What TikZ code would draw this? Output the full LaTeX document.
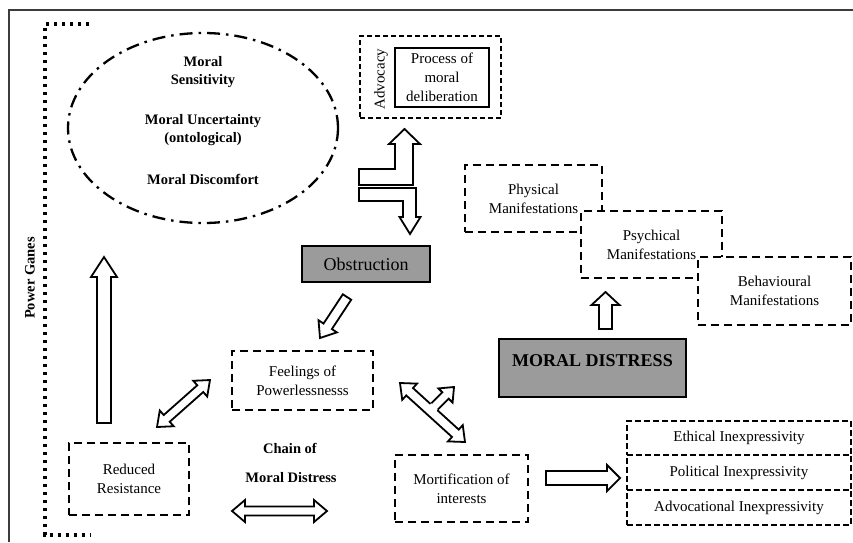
\documentclass[tikz,border=0pt]{standalone}
\usepackage{fontspec}
\setmainfont{Liberation Serif}
\usetikzlibrary{shapes.geometric}
\definecolor{boxgray}{RGB}{155,155,155}
\definecolor{framegray}{RGB}{60,60,60}
\tikzset{
  txt/.style={font=\fontsize{15}{19}\selectfont, align=center, inner sep=0pt},
  btxt/.style={font=\bfseries\fontsize{14.5}{18}\selectfont, align=center, inner sep=0pt},
  dbox/.style={draw=black, line width=2pt, dash pattern=on 8pt off 5pt, fill=white,
    inner sep=0pt, font=\fontsize{15}{19}\selectfont, align=center},
  ibox/.style={draw=black, line width=2pt, dash pattern=on 6pt off 3pt,
    inner sep=0pt, font=\fontsize{15}{19}\selectfont, align=center},
  gbox/.style={draw=black, line width=1.8pt, fill=boxgray, inner sep=0pt},
  blk/.style={draw=black, line width=1.8pt, fill=white, line join=miter},
}
\newcommand\blkone[7]{%
  \pgfmathsetmacro\bang{atan2(-(#4-#2),#3-#1)}%
  \pgfmathsetmacro\blen{veclen(#3-#1,#4-#2)}%
  \pgfmathsetmacro\bneck{\blen-#7}%
  \begin{scope}[shift={(#1,#2)},rotate=\bang]
    \draw[blk] (0,-#5) -- (\bneck,-#5) -- (\bneck,-#6) -- (\blen,0) -- (\bneck,#6) -- (\bneck,#5) -- (0,#5) -- cycle;
  \end{scope}}
\newcommand\blktwo[7]{%
  \pgfmathsetmacro\bang{atan2(-(#4-#2),#3-#1)}%
  \pgfmathsetmacro\blen{veclen(#3-#1,#4-#2)}%
  \pgfmathsetmacro\bneck{\blen-#7}%
  \begin{scope}[shift={(#1,#2)},rotate=\bang]
    \draw[blk] (0,0) -- (#7,-#6) -- (#7,-#5) -- (\bneck,-#5) -- (\bneck,-#6) -- (\blen,0) -- (\bneck,#6) -- (\bneck,#5) -- (#7,#5) -- (#7,#6) -- cycle;
  \end{scope}}
% branch arrow: filled from the start, stroked from offset #8
\newcommand\blkbranch[8]{%
  \pgfmathsetmacro\bang{atan2(-(#4-#2),#3-#1)}%
  \pgfmathsetmacro\blen{veclen(#3-#1,#4-#2)}%
  \pgfmathsetmacro\bneck{\blen-#7}%
  \begin{scope}[shift={(#1,#2)},rotate=\bang]
    \fill[white] (0,-#5) -- (\bneck,-#5) -- (\bneck,-#6) -- (\blen,0) -- (\bneck,#6) -- (\bneck,#5) -- (0,#5) -- cycle;
    \draw[blk,fill=none] (#8,-#5) -- (\bneck,-#5) -- (\bneck,-#6) -- (\blen,0) -- (\bneck,#6) -- (\bneck,#5) -- (#8,#5);
  \end{scope}}
\begin{document}
\begin{tikzpicture}[x=1pt,y=-1pt]
\useasboundingbox (0,0) rectangle (853,542);
\fill[white] (0,0) rectangle (853,542);
% frame
\coordinate (frTL) at (9,10);
\coordinate (frTR) at (853,10);
\coordinate (frBL) at (9,542);
\draw[framegray, line width=1.8pt] (frTR) -- (frTL) -- (frBL);
% power games bracket
\coordinate (pgA) at (89,24);
\coordinate (pgB) at (45,24);
\coordinate (pgC) at (45,535);
\coordinate (pgD) at (91,535);
\draw[black, line width=3.3pt, dash pattern=on 3.3pt off 4.7pt] (pgA) -- (pgB) -- (pgC) -- (pgD);
\node[btxt, rotate=90] (power) at (30,278) {Power Ganes};
% ellipse
\node[ellipse, draw=black, line width=2.3pt, dash pattern=on 13pt off 6pt on 2.5pt off 6pt,
      minimum width=270pt, minimum height=190pt, inner sep=0pt] (ell) at (203,128) {};
\node[btxt] (sens) at (203,72) {Moral\\Sensitivity};
\node[btxt] (unc) at (203,130) {Moral Uncertainty\\(ontological)};
\node[btxt] (disc) at (203,179) {Moral Discomfort};
% advocacy
\node[draw=black, line width=1.6pt, dash pattern=on 5pt off 3pt, minimum width=141pt, minimum height=82pt] (adv) at (430.5,77) {};
\node[draw=black, line width=2.5pt, minimum width=94pt, minimum height=59pt, txt] (proc) at (442,77.5) {Process of\\moral\\deliberation};
\node[txt, rotate=90] (advt) at (381,79) {Advocacy};
% L-shaped arrows
\draw[blk] (359,169) -- (395,169) -- (395,144) -- (389,144) -- (404.5,129) -- (420,144) -- (413,144) -- (413,185) -- (359,185) -- cycle;
\draw[blk] (359,188) -- (416,188) -- (416,217) -- (420.5,217) -- (410,234) -- (399.5,217) -- (403,217) -- (403,201) -- (359,201) -- cycle;
% obstruction
\node[gbox, minimum width=128pt, minimum height=36pt, font=\fontsize{18}{20}\selectfont] (obs) at (366,264) {Obstruction};
% manifestations
\node[dbox, minimum width=137pt, minimum height=67pt] (phys) at (533.5,198.5) {Physical\\Manifestations};
\node[dbox, minimum width=141pt, minimum height=67pt] (psych) at (651.5,244.5) {Psychical\\Manifestations};
\node[dbox, minimum width=153pt, minimum height=68pt] (behav) at (774.5,291) {Behavioural\\Manifestations};
% moral distress
\node[gbox, minimum width=187pt, minimum height=58pt] (md) at (592.5,368) {};
\node[inner sep=0pt, font=\bfseries\fontsize{18}{20}\selectfont] (mdt) at (592.5,361) {MORAL DISTRESS};
% chain boxes
\node[dbox, minimum width=141pt, minimum height=59pt] (feel) at (302.5,380.5) {Feelings of\\Powerlessnesss};
\node[dbox, minimum width=120pt, minimum height=72pt] (red) at (129,479) {Reduced\\Resistance};
\node[dbox, minimum width=133pt, minimum height=67pt] (mort) at (461.5,488.5) {Mortification of\\interests};
\node[btxt] (chain1) at (290,448) {Chain of};
\node[btxt] (chain2) at (291,478) {Moral Distress};
% inexpressivity
\node[ibox, minimum width=224pt, minimum height=34pt] (eth) at (739,438) {Ethical Inexpressivity};
\node[ibox, minimum width=224pt, minimum height=35pt] (pol) at (739,472.5) {Political Inexpressivity};
\node[ibox, minimum width=224pt, minimum height=35pt] (advi) at (739,507.5) {Advocational Inexpressivity};
% block arrows
\blkone{104}{423}{104}{257}{7}{13}{20}
\blkone{347}{297}{320}{338}{5}{11}{14}
\blktwo{157}{427}{210}{380}{4.5}{10.5}{13}
\blktwo{232}{511}{327}{511}{4.5}{11}{13}
\blkone{605.5}{329}{605.5}{292}{6.5}{14}{13}
\blkone{546}{478}{620}{478}{7}{13}{13}
\blktwo{400}{383}{465}{442}{5}{11}{13}
\blkbranch{431}{410}{454}{387}{4.5}{10}{12}{5}
\end{tikzpicture}
\end{document}
